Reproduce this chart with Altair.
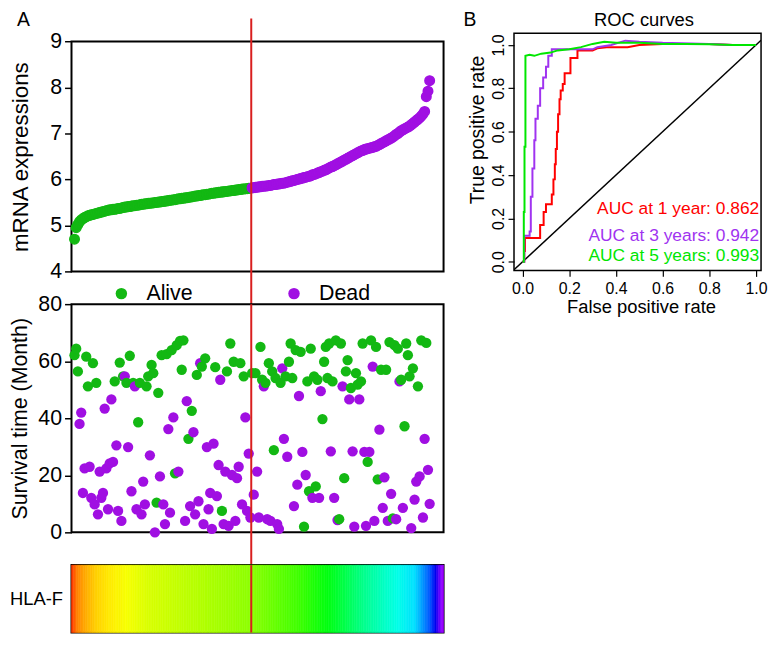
import altair as alt
import pandas as pd

# ---------------- data ----------------
expression = [
    4.70, 4.95, 5.02, 5.08, 5.12, 5.15, 5.17, 5.19, 5.21, 5.22,
    5.23, 5.24, 5.25, 5.26, 5.27, 5.28, 5.29, 5.30, 5.31, 5.32,
    5.33, 5.34, 5.34, 5.35, 5.35, 5.36, 5.37, 5.37, 5.38, 5.39,
    5.40, 5.40, 5.41, 5.41, 5.42, 5.43, 5.43, 5.44, 5.44, 5.45,
    5.46, 5.46, 5.47, 5.47, 5.48, 5.48, 5.49, 5.49, 5.50, 5.50,
    5.51, 5.51, 5.52, 5.52, 5.53, 5.53, 5.54, 5.55, 5.55, 5.56,
    5.56, 5.57, 5.58, 5.58, 5.59, 5.59, 5.60, 5.60, 5.61, 5.62,
    5.62, 5.63, 5.64, 5.64, 5.65, 5.65, 5.66, 5.67, 5.67, 5.68,
    5.68, 5.69, 5.70, 5.70, 5.71, 5.71, 5.72, 5.72, 5.73, 5.73,
    5.74, 5.74, 5.75, 5.75, 5.76, 5.76, 5.77, 5.77, 5.78, 5.78,
    5.79, 5.79, 5.80, 5.80, 5.81, 5.81, 5.82, 5.82, 5.83, 5.83,
    5.84, 5.84, 5.85, 5.85, 5.86, 5.86, 5.87, 5.87, 5.88, 5.89,
    5.89, 5.90, 5.90, 5.91, 5.92, 5.92, 5.93, 5.94, 5.95, 5.96,
    5.97, 5.98, 5.99, 6.00, 6.01, 6.02, 6.03, 6.04, 6.05, 6.06,
    6.07, 6.08, 6.10, 6.11, 6.12, 6.14, 6.15, 6.17, 6.18, 6.20,
    6.21, 6.23, 6.25, 6.27, 6.28, 6.30, 6.32, 6.34, 6.36, 6.38,
    6.40, 6.42, 6.44, 6.46, 6.48, 6.50, 6.52, 6.54, 6.56, 6.58,
    6.60, 6.62, 6.63, 6.65, 6.66, 6.67, 6.68, 6.69, 6.70, 6.71,
    6.72, 6.74, 6.76, 6.78, 6.80, 6.82, 6.84, 6.86, 6.88, 6.90,
    6.92, 6.95, 6.98, 7.00, 7.03, 7.06, 7.08, 7.10, 7.12, 7.14,
    7.16, 7.19, 7.22, 7.25, 7.28, 7.31, 7.34, 7.38, 7.42, 7.48,
    7.80, 7.92, 8.15,
]

survival = [
    62.1, 64.4, 56.4, 38.0, 42.0, 13.8, 22.4, 61.6, 51.2, 23.0,
    12.1, 59.3, 9.8, 52.4, 6.3, 21.3, 12.1, 13.8, 43.4, 22.4,
    8.1, 24.2, 46.6, 24.7, 52.9, 30.5, 7.5, 59.5, 4.0, 54.7,
    54.7, 52.4, 29.9, 61.9, 14.4, 52.4, 51.2, 8.1, 38.6, 52.4,
    6.3, 17.8, 9.8, 51.2, 54.7, 27.0, 58.7, 55.8, 0.0, 10.4,
    48.9, 19.6, 62.1, 9.8, 2.9, 62.5, 36.2, 6.9, 63.9, 40.3,
    20.7, 65.6, 21.3, 67.1, 57.0, 67.3, 4.0, 46.0, 32.8, 9.2,
    42.6, 35.1, 6.3, 55.2, 10.9, 59.3, 58.1, 2.9, 61.0, 29.9,
    8.1, 13.8, 1.2, 31.1, 57.9, 12.7, 23.6, 53.5, 7.5, 2.9,
    21.3, 56.4, 2.3, 66.2, 20.1, 59.8, 4.0, 19.0, 23.0, 59.3,
    9.8, 54.7, 40.3, 7.5, 27.6, 5.2, 55.8, 13.2, 55.8, 21.3,
    5.2, 65.0, 53.5, 51.2, 52.4, 4.6, 59.3, 4.0, 56.4, 28.8,
    54.1, 2.9, 1.2, 52.4, 57.5, 32.8, 54.7, 26.5, 59.8, 66.2,
    54.1, 9.2, 63.9, 16.7, 47.8, 63.3, 28.2, 2.0, 20.1, 52.9,
    14.4, 64.4, 12.1, 54.7, 16.1, 53.5, 12.1, 49.5, 39.7, 59.8,
    65.0, 54.1, 66.2, 28.4, 52.9, 12.1, 67.3, 4.3, 4.6, 66.2,
    51.2, 19.0, 56.4, 60.4, 46.6, 50.6, 28.4, 2.0, 55.8, 51.8,
    46.6, 52.9, 66.2, 28.2, 2.3, 24.7, 28.2, 67.3, 58.1, 4.0,
    65.0, 18.6, 36.0, 57.0, 8.6, 19.3, 57.0, 4.0, 66.7, 13.5,
    4.9, 65.6, 4.6, 64.4, 52.9, 53.5, 8.6, 37.2, 66.2, 62.1,
    54.7, 1.5, 57.5, 11.5, 17.8, 51.2, 19.6, 67.3, 5.2, 32.8,
    66.4, 21.9, 10.0,
]

status_code = list(
    "AAADDDDAAD" "DADADDDDDD" "DDDDADDADA" "DADADADDAA" "DDDAADAADA"
    "ADADDADDAD" "AADAAADDAD" "ADDADDADAD" "DDDDADDDAD" "DADADADDDA"
    "DADDDDADAD" "DAADADADAA" "ADDADDADAA" "ADADDADADA" "AADAAADDAA"
    "AAADADADAA" "DAAADADDAA" "DAADDADADD" "AADADDADAD" "AADADADAAA"
    "ADADDADADD" "ADD"
)

genes = ["HLA-F"]
group_labels = ["Low expression", "High expression"]
status_labels = ["Alive", "Dead"]

# ROC curves (false positive rate, true positive rate)
series_names = ["1 year", "3 years", "5 years"]
auc_labels = ["AUC at 1 year: 0.862", "AUC at 3 years: 0.942", "AUC at 5 years: 0.993"]

red_fpr = [0, 0.007, 0.007, 0.01, 0.01, 0.075, 0.075, 0.09, 0.09, 0.1,
           0.1, 0.125, 0.125, 0.132, 0.132, 0.138, 0.138, 0.142, 0.142, 0.147,
           0.147, 0.152, 0.152, 0.158, 0.158, 0.163, 0.163, 0.172, 0.172, 0.18,
           0.18, 0.205, 0.205, 0.235, 0.235, 0.3, 0.32, 0.36, 0.45, 0.5,
           0.6, 0.8, 0.9, 1.0]
red_tpr = [0, 0, 0.05, 0.05, 0.11, 0.11, 0.17, 0.17, 0.23, 0.23,
           0.265, 0.265, 0.31, 0.31, 0.38, 0.38, 0.45, 0.45, 0.52, 0.52,
           0.6, 0.6, 0.68, 0.68, 0.75, 0.75, 0.79, 0.79, 0.82, 0.82,
           0.87, 0.87, 0.94, 0.94, 0.975, 0.975, 0.985, 0.99, 0.99, 1.0,
           1.005, 1.005, 1.0, 1.0]
purple_fpr = [0, 0.007, 0.007, 0.03, 0.03, 0.035, 0.035, 0.042, 0.042, 0.05,
              0.05, 0.055, 0.055, 0.065, 0.065, 0.075, 0.075, 0.088, 0.088, 0.1,
              0.1, 0.11, 0.11, 0.125, 0.125, 0.2, 0.3, 0.32, 0.38, 0.44,
              0.5, 0.6, 0.8, 0.9, 1.0]
purple_tpr = [0, 0, 0.12, 0.12, 0.14, 0.14, 0.3, 0.3, 0.43, 0.43,
              0.56, 0.56, 0.66, 0.66, 0.72, 0.72, 0.8, 0.8, 0.85, 0.85,
              0.9, 0.9, 0.95, 0.95, 0.98, 0.98, 0.98, 0.99, 1.0, 1.02,
              1.015, 1.01, 1.005, 1.0, 1.0]
green_fpr = [0, 0.005, 0.005, 0.008, 0.008, 0.012, 0.012, 0.03, 0.05, 0.08,
             0.12, 0.15, 0.2, 0.25, 0.3, 0.35, 0.4, 0.5, 0.6, 0.7,
             0.8, 0.9, 1.0]
green_tpr = [0, 0, 0.23, 0.23, 0.53, 0.53, 0.95, 0.955, 0.95, 0.96,
             0.965, 0.975, 0.98, 0.99, 1.005, 1.015, 1.01, 1.01, 1.005, 1.005,
             1.003, 1.0, 1.0]

diag_ends = [-0.04, 1.022]

assert len(expression) == len(survival) == len(status_code)

# ---------------- styling / layout constants ----------------
FONT = "Liberation Sans"
GREEN = "#13b813"
PURPLE = "#a00fe2"
RED_LINE = "#d91e1e"
ROC_COLORS = ["#ff0000", "#a033f0", "#00e600"]

W = 375
H_TOP, H_MID, H_HEAT = 240, 230, 68
GAP = 33
X_DOM = [-1.8, 220.3]

AUC_X = 1.014
AUC_Y = [0.221, 0.094, 0.003]

N = len(expression)
ranks = list(range(N))
half = N // 2
cut = half - 0.5
cut_heat = (cut - X_DOM[0]) / (X_DOM[1] - X_DOM[0]) * N - 0.5

df = pd.DataFrame({
    "rank": ranks,
    "expr": expression,
    "surv": survival,
    "status": [status_labels[0] if c == "A" else status_labels[1] for c in status_code],
    "group": [group_labels[0] if r < half else group_labels[1] for r in ranks],
    "gene": genes[0],
})

HEAT_STOPS = [0, 2.9, 8, 13.7, 21, 30.8, 43.9, 72.4, 102.6, 129.3, 146.4,
              167.5, 186.3, 196, 205, 208, 210.5, 212]
HEAT_COLORS = ["#ff3c00", "#ff8400", "#ffae00", "#ffd000", "#ffea00", "#f8ff00",
               "#d8ff00", "#b4ff00", "#8cff00", "#40ff00", "#00ff10", "#00ff90",
               "#00ffe8", "#00e0ff", "#0050ff", "#0000f0", "#7000ff", "#9a00ff"]

xs = alt.Scale(domain=X_DOM, nice=False, zero=False)

def left_axis(title, values, tx, ty=None):
    kw = dict(values=values, title=title, domain=False, grid=False, tickSize=7,
              tickWidth=1.5, tickColor="black", labelFontSize=21.5, labelPadding=3,
              labelColor="black", labelFlush=False, titleFontSize=22.5 if ty else 21.5,
              titleFontWeight="normal", titleColor="black", titleAngle=270,
              titleBaseline="bottom", titleX=tx)
    if ty is not None:
        kw["titleY"] = ty
    return alt.Axis(**kw)

# ---------------- top panel: expression ----------------
top_axis = left_axis("mRNA expressions", [4, 5, 6, 7, 8, 9], -39, 124.3)
top_yscale = alt.Scale(domain=[4, 9.18], nice=False, zero=False)

frame_df = pd.DataFrame({"x0": [X_DOM[0]], "x1": [X_DOM[1]], "y0": [4], "y1": [9]})
top_frame = alt.Chart(frame_df).mark_rect(filled=False, stroke="black", strokeWidth=2).encode(
    x=alt.X("x0:Q", scale=xs, axis=None),
    x2="x1:Q",
    y=alt.Y("y0:Q", scale=top_yscale, axis=top_axis, title="mRNA expressions"),
    y2="y1:Q",
)

grp_scale = alt.Scale(domain=group_labels, range=[GREEN, PURPLE])
top_pts = alt.Chart(df).mark_point(filled=False, size=92, strokeWidth=1.5, opacity=1).encode(
    x=alt.X("rank:Q", scale=xs, axis=None),
    y=alt.Y("expr:Q", scale=top_yscale, axis=top_axis, title="mRNA expressions"),
    stroke=alt.Stroke("group:N", scale=grp_scale, legend=alt.Legend(
        title=None, orient="none", legendX=4.5, legendY=-17.75, direction="horizontal",
        symbolType="circle", symbolSize=110, symbolStrokeWidth=2, symbolFillColor="white",
        labelFontSize=22, labelColor="black", labelOffset=4, columnPadding=19.5, padding=0)),
    fill=alt.Fill("group:N", scale=grp_scale, legend=None),
)

cut_df = pd.DataFrame({"cut": [cut]})
top_rule = alt.Chart(cut_df).mark_rule(color=RED_LINE, strokeWidth=2).encode(
    x=alt.X("cut:Q", scale=xs, axis=None), y=alt.value(-15), y2=alt.value(H_TOP + GAP))

a_text = alt.Chart(pd.DataFrame({"t": ["A"]})).mark_text(
    align="left", baseline="alphabetic", fontSize=19.5, color="black").encode(
    text="t:N", x=alt.value(-55), y=alt.value(-7))

top = alt.layer(top_frame, top_pts, top_rule, a_text).properties(
    width=W, height=H_TOP, view=alt.ViewBackground(stroke="transparent"))

# ---------------- middle panel: survival ----------------
mid_pts = alt.Chart(df).mark_circle(size=108, opacity=1).encode(
    x=alt.X("rank:Q", scale=xs, axis=None),
    y=alt.Y("surv:Q", scale=alt.Scale(domain=[0, 80], nice=False),
            axis=left_axis("Survival time (Month)", [0, 20, 40, 60, 80], -40)),
    color=alt.Color("status:N", scale=alt.Scale(domain=status_labels, range=[GREEN, PURPLE]),
                    legend=alt.Legend(title=None, orient="none", legendX=39.5, legendY=-21.75,
                                      direction="horizontal", symbolType="circle", symbolSize=133,
                                      symbolStrokeWidth=0, labelFontSize=21.5, labelColor="black",
                                      labelOffset=14.5, columnPadding=91, padding=0)),
)
mid_rule = alt.Chart(cut_df).mark_rule(color=RED_LINE, strokeWidth=2).encode(
    x=alt.X("cut:Q", scale=xs, axis=None), y=alt.value(0), y2=alt.value(H_MID + GAP))
mid = alt.layer(mid_pts, mid_rule).properties(
    width=W, height=H_MID, view=alt.ViewBackground(stroke="black", strokeWidth=2))

# ---------------- heatmap ----------------
hx = alt.Scale(domain=[-0.5, N - 0.5], nice=False, zero=False)
heat_scale = alt.Scale(domain=HEAT_STOPS, range=HEAT_COLORS, interpolate="rgb", clamp=True)
heat_rect = alt.Chart(df).transform_calculate(
    x0="datum.rank - 0.5", x1="datum.rank + 0.5").mark_rect(strokeWidth=0.6).encode(
    x=alt.X("x0:Q", scale=hx, axis=None),
    x2="x1:Q",
    y=alt.Y("gene:N", scale=alt.Scale(paddingInner=0, paddingOuter=0),
            axis=alt.Axis(title=None, ticks=False, tickSize=0, domain=False, labelFontSize=18.5,
                          labelPadding=9, labelColor="black")),
    fill=alt.Fill("rank:Q", scale=heat_scale, legend=None),
    stroke=alt.Stroke("rank:Q", scale=heat_scale, legend=None),
)
heat_rule = alt.Chart(pd.DataFrame({"c": [cut_heat]})).mark_rule(color=RED_LINE, strokeWidth=2).encode(
    x=alt.X("c:Q", scale=hx, axis=None), y=alt.value(0), y2=alt.value(H_HEAT))
heat = alt.layer(heat_rect, heat_rule).properties(
    width=W, height=H_HEAT, view=alt.ViewBackground(stroke="black", strokeWidth=2))

left = alt.vconcat(top, mid, heat, spacing=GAP, bounds="flush").resolve_scale(
    x="independent", y="independent", color="independent", fill="independent", stroke="independent")

# ---------------- ROC panel ----------------
roc_rows = []
for name, fx, ty in zip(series_names, [red_fpr, purple_fpr, green_fpr], [red_tpr, purple_tpr, green_tpr]):
    for i, (a, b) in enumerate(zip(fx, ty)):
        roc_rows.append({"series": name, "fpr": a, "tpr": b, "idx": i})
roc_df = pd.DataFrame(roc_rows)

rx_scale = alt.Scale(domain=[-0.037, 1.022], nice=False, zero=False)
ry_scale = alt.Scale(domain=[-0.04, 1.054], nice=False, zero=False)
ticks01 = [0, 0.2, 0.4, 0.6, 0.8, 1.0]
rx_axis = alt.Axis(values=ticks01, format=".1f", title="False positive rate", grid=False, domain=False,
                   tickSize=6, tickWidth=1.2, tickColor="black", labelFontSize=16, labelPadding=4,
                   labelColor="black", labelFlush=False, titleFontSize=18.5, titleFontWeight="normal",
                   titleColor="black", titleBaseline="alphabetic", titleY=42.5, titleX=128)
ry_axis = alt.Axis(values=ticks01, format=".1f", title="True positive rate", grid=False, domain=False,
                   tickSize=6, tickWidth=1.2, tickColor="black", labelFontSize=16, labelPadding=1.5,
                   labelColor="black", labelFlush=False, labelAngle=270, labelAlign="center",
                   labelBaseline="bottom", titleFontSize=19.5, titleFontWeight="normal",
                   titleColor="black", titleAngle=270, titleBaseline="alphabetic", titleX=-31, titleY=97)

def rx(field):
    return alt.X(field, scale=rx_scale, axis=rx_axis, title="False positive rate")

def ry(field):
    return alt.Y(field, scale=ry_scale, axis=ry_axis, title="True positive rate")

roc_color = alt.Scale(domain=series_names, range=ROC_COLORS)

diag = alt.Chart(pd.DataFrame({"fpr": diag_ends, "tpr": diag_ends})).mark_line(
    color="black", strokeWidth=1.5, clip=True).encode(x=rx("fpr:Q"), y=ry("tpr:Q"))

roc_lines = alt.Chart(roc_df).mark_line(strokeWidth=2).encode(
    x=rx("fpr:Q"), y=ry("tpr:Q"),
    color=alt.Color("series:N", scale=roc_color, legend=None),
    order="idx:Q",
)

auc_df = pd.DataFrame({"label": auc_labels, "series": series_names,
                       "fpr": [AUC_X] * 3, "tpr": AUC_Y})
auc_text = alt.Chart(auc_df).mark_text(align="right", baseline="alphabetic", fontSize=17.5).encode(
    x=rx("fpr:Q"), y=ry("tpr:Q"), text="label:N",
    color=alt.Color("series:N", scale=roc_color, legend=None))

roc_title = alt.Chart(pd.DataFrame({"t": ["ROC curves"]})).mark_text(
    align="center", baseline="alphabetic", fontSize=18.5, color="black").encode(
    text="t:N", x=alt.value(131), y=alt.value(-7))
b_text = alt.Chart(pd.DataFrame({"t": ["B"]})).mark_text(
    align="left", baseline="alphabetic", fontSize=19.5, color="black").encode(
    text="t:N", x=alt.value(-51), y=alt.value(-7))

roc = alt.layer(diag, roc_lines, auc_text, roc_title, b_text).properties(
    width=249, height=239, view=alt.ViewBackground(stroke="black", strokeWidth=1.5))

chart = alt.hconcat(left, roc, spacing=17, bounds="full").resolve_scale(
    x="independent", y="independent", color="independent", fill="independent", stroke="independent"
).properties(
    padding={"left": 0, "top": -1, "right": 0, "bottom": 0}
).configure(font=FONT, background="white")

chart.save("out.html", embed_options={"renderer": "svg", "actions": False})
